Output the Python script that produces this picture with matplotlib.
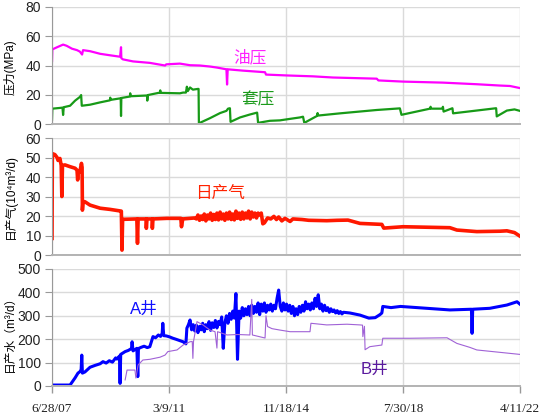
import numpy as np
import pandas as pd
import matplotlib
matplotlib.use('Agg')
import matplotlib.pyplot as plt

# time axis is in decimal years, converted to dates below
oil_t = [2007.49, 2007.50, 2007.65, 2007.84, 2007.95, 2008.12, 2008.28, 2008.37, 2008.44, 2008.47,
         2008.69, 2009.01, 2009.32, 2009.64, 2009.67, 2009.68, 2009.73, 2010.05, 2010.58, 2011.06,
         2011.10, 2011.53, 2011.85, 2012.16, 2012.48, 2012.70, 2013.00, 2013.02, 2013.04, 2013.52,
         2013.97, 2014.22, 2014.25, 2014.91, 2015.73, 2016.36, 2017.22, 2017.75, 2017.80, 2018.58,
         2019.84, 2020.91, 2021.64, 2021.96, 2022.18, 2022.27]
oil_p = [43, 51, 52.5, 54.3, 53.5, 51.5, 50.5, 49.5, 47.5, 50.5,
         49.8, 48, 47, 46, 52.5, 45, 44.2, 42.8, 41.8, 40,
         40.8, 41.3, 40.2, 40, 39.3, 38.6, 37.4, 27, 37.4, 36.5,
         35.8, 35.4, 33.8, 33.2, 32.6, 31.8, 31.3, 31.0, 29.8, 29.0,
         28.3, 27.2, 26.3, 26, 25, 24.6]

cas_t = [2007.49, 2007.50, 2007.74, 2007.82, 2007.84, 2007.86, 2008.06, 2008.22, 2008.37, 2008.41,
         2008.43, 2008.69, 2009.01, 2009.32, 2009.33, 2009.34, 2009.66, 2009.67, 2009.68, 2009.95,
         2009.96, 2009.98, 2010.49, 2010.50, 2010.52, 2010.90, 2010.91, 2010.92, 2011.53, 2011.63,
         2011.72, 2011.75, 2011.78, 2011.85, 2011.94, 2012.10, 2012.12, 2012.13, 2012.48, 2012.80,
         2013.00, 2013.05, 2013.11, 2013.13, 2013.43, 2013.74, 2013.97, 2014.00, 2014.37, 2014.69,
         2015.00, 2015.32, 2015.42, 2015.46, 2015.86, 2015.88, 2015.90, 2016.59, 2017.75, 2018.48,
         2018.53, 2019.43, 2019.45, 2019.47, 2019.82, 2019.84, 2019.86, 2020.14, 2020.16, 2021.52,
         2021.54, 2021.86, 2022.10, 2022.27]
cas_p = [3, 10.5, 11, 11.2, 6.2, 11.5, 12.5, 16, 18.5, 19.8,
         12.5, 13.2, 14.8, 16.2, 18, 16.5, 17.6, 5.5, 17.8, 18.8,
         21, 19, 19.5, 16, 19.8, 21.5, 23, 21.3, 21, 21.5,
         21.5, 25.5, 22.5, 25, 23.5, 24, 24, 0.5, 4, 7.5,
         9, 10.5, 10.8, 1.5, 4.5, 6.5, 7.8, 0.8, 2.2, 2.5,
         3.5, 4.5, 5, 0.8, 5.5, 7.5, 5.8, 7.3, 9.6, 10.7,
         6.3, 10.5, 11.8, 10.5, 10.5, 11.8, 8.5, 10.8, 7.3, 10.8,
         5.2, 9.2, 10, 9]

gas_t = [2007.49, 2007.50, 2007.58, 2007.65, 2007.68, 2007.74, 2007.78, 2007.80, 2007.82, 2007.90,
         2008.06, 2008.22, 2008.28, 2008.30, 2008.32, 2008.37, 2008.42, 2008.44, 2008.45, 2008.47,
         2008.53, 2008.69, 2009.01, 2009.32, 2009.64, 2009.68, 2009.70, 2009.72, 2010.17, 2010.19,
         2010.21, 2010.46, 2010.47, 2010.49, 2010.65, 2010.66, 2010.68, 2011.12, 2011.56, 2011.58,
         2011.62, 2012.00,
         2012.05, 2012.10, 2012.15, 2012.20, 2012.25, 2012.30, 2012.35, 2012.40, 2012.45, 2012.50,
         2012.55, 2012.60, 2012.65, 2012.70, 2012.75, 2012.80, 2012.85, 2012.90, 2012.95, 2013.00,
         2013.05, 2013.10, 2013.15, 2013.20, 2013.25, 2013.30, 2013.35, 2013.40, 2013.45, 2013.50,
         2013.55, 2013.60, 2013.65, 2013.70, 2013.75, 2013.80, 2013.85, 2013.90, 2013.95, 2014.00,
         2014.05, 2014.10, 2014.15, 2014.20,
         2014.30, 2014.40, 2014.50, 2014.58, 2014.65, 2014.75, 2014.85, 2015.01,
         2015.10, 2015.39, 2015.60, 2016.17, 2016.50, 2016.84, 2017.22, 2017.91, 2017.97, 2018.58,
         2020.06, 2020.28, 2020.91, 2021.64, 2021.86, 2022.10, 2022.27]
gas_q = [8.5, 52, 51.5, 50, 48.5, 49.5, 46, 30, 46, 46.2,
         45.3, 44.5, 43.5, 38.5, 43, 42.7, 47, 45, 23, 27.5,
         27.3, 25.6, 24, 23.4, 22.6, 22.5, 2.5, 18.3, 18.5, 6,
         18.5, 18.5, 13.7, 18.5, 18.5, 13.7, 18.5, 18.8, 18.8, 14.5,
         18.5, 19,
         18.5, 20.5, 17.8, 20, 18.2, 21, 17.5, 20.5, 18.5, 21.5,
         17.8, 20.8, 18.2, 21.5, 18, 22, 18.5, 21, 17.8, 21.5,
         18.5, 22, 18.2, 21, 18, 22.5, 18.8, 21.5, 18.3, 22,
         18.5, 21.5, 19, 22.5, 18.5, 22, 19.5, 21.5, 19, 21.5,
         20.5, 21.5, 16, 16.5,
         19, 18.5, 19.8, 18.2, 19.5, 17.5, 18.8, 17.2,
         18.5, 18.2, 17.8, 17.6, 17.8, 17.9, 16.2, 15.7, 13.8, 14.5,
         14, 12.8, 12, 12.2, 12.4, 11.5, 9.7]

wa_t = [2007.49, 2008.06, 2008.22, 2008.31, 2008.37, 2008.41, 2008.43, 2008.45, 2008.53, 2008.69,
        2008.85, 2009.01, 2009.10, 2009.20, 2009.30, 2009.40, 2009.50, 2009.54, 2009.62, 2009.64,
        2009.66, 2009.80, 2009.90, 2010.00, 2010.02, 2010.05, 2010.17, 2010.20, 2010.22, 2010.30,
        2010.40, 2010.50, 2010.58, 2010.68, 2010.76, 2010.85, 2010.92, 2010.97, 2010.99, 2011.02,
        2011.10, 2011.20, 2011.31, 2011.40, 2011.50, 2011.63, 2011.72,
        2011.75, 2011.80, 2011.85, 2011.90, 2011.95, 2012.00, 2012.05, 2012.10, 2012.15, 2012.20,
        2012.25, 2012.30, 2012.35, 2012.40, 2012.45, 2012.50, 2012.55, 2012.60, 2012.65, 2012.70,
        2012.75, 2012.80, 2012.85, 2012.90, 2012.95, 2013.00, 2013.05, 2013.10, 2013.15, 2013.20,
        2013.25, 2013.30, 2013.35, 2013.40, 2013.45, 2013.50, 2013.55, 2013.60, 2013.65, 2013.70,
        2013.75, 2013.80, 2013.85, 2013.90, 2013.95, 2014.00, 2014.05, 2014.10, 2014.15, 2014.20,
        2014.25, 2014.30, 2014.35, 2014.40, 2014.45, 2014.50, 2014.55, 2014.60, 2014.65, 2014.70,
        2014.75, 2014.80, 2014.85, 2014.90, 2014.95, 2015.00, 2015.05, 2015.10, 2015.15, 2015.20,
        2015.25, 2015.30, 2015.35, 2015.40, 2015.45, 2015.50, 2015.55, 2015.60, 2015.65, 2015.70,
        2015.75, 2015.80, 2015.85, 2015.90, 2015.95, 2016.00, 2016.05, 2016.10, 2016.15, 2016.20,
        2016.25, 2016.30, 2016.35, 2016.40, 2016.45, 2016.50, 2016.55, 2016.60, 2016.65, 2016.70,
        2016.90, 2017.22, 2017.50, 2017.70, 2017.85, 2017.91, 2017.94, 2018.20,
        2018.50, 2019.02, 2019.50, 2020.06, 2020.69, 2020.74, 2020.76, 2020.78, 2021.32, 2021.86,
        2022.18, 2022.27]
wa_q = [4, 4, 35, 55, 61, 70, 132, 55, 60, 80,
        88, 95, 104, 98, 108, 102, 120, 115, 128, 11,
        135, 147, 152, 160, 189, 150, 161, 40, 160, 165,
        170, 164, 168, 211, 206, 218, 212, 225, 268, 215,
        214, 210, 204, 200, 195, 189, 180,
        247, 262, 282, 240, 262, 235, 260, 228, 255, 240,
        268, 232, 262, 245, 275, 238, 270, 250, 280, 248,
        276, 262, 295, 161, 270, 300, 268, 310, 285, 320,
        290, 395, 114, 320, 290, 335, 300, 330, 305, 340,
        300, 345, 310, 340, 315, 355, 305, 350, 320, 355,
        315, 345, 325, 350, 320, 345, 330, 375, 410, 340,
        320, 355, 325, 350, 320, 345, 310, 340, 300, 330,
        305, 340, 315, 345, 320, 360, 330, 350, 325, 355,
        330, 375, 340, 390, 330, 350, 320, 345, 322, 335,
        315, 330, 318, 325, 312, 322, 310, 318, 308, 315,
        312, 303, 290, 292, 305, 312, 340, 335,
        340, 335, 330, 325, 328, 328, 225, 328, 332, 346,
        360, 350]

wb_t = [2009.80, 2009.86, 2010.11, 2010.14, 2010.21, 2010.36, 2010.58, 2010.90, 2011.06, 2011.15,
        2011.44, 2011.63, 2011.85, 2011.92, 2011.94, 2011.96, 2012.07, 2012.26, 2012.48, 2012.64,
        2012.70, 2012.72, 2013.02, 2013.36, 2013.74, 2013.80, 2013.82, 2014.22, 2014.25, 2014.30,
        2014.44, 2014.69, 2015.01, 2015.64, 2015.67, 2016.17, 2016.81, 2017.22, 2017.30, 2017.31,
        2017.36, 2017.38, 2017.53, 2017.91, 2017.94, 2018.80, 2019.97, 2020.28, 2020.69, 2020.91,
        2021.41, 2022.27]
wb_q = [26, 68, 68, 34, 90, 111, 114, 123, 132, 147,
        154, 175, 189, 190, 118, 190, 275, 261, 239, 232,
        162, 232, 218, 220, 218, 370, 218, 205, 300, 254,
        245, 239, 232, 232, 268, 261, 264, 261, 260, 211,
        255, 155, 168, 175, 204, 204, 206, 182, 165, 154,
        147, 135]

tick_dates = ['2007-06-28', '2011-03-09', '2014-11-18', '2018-07-30', '2022-04-11']
tick_labels = ['6/28/07', '3/9/11', '11/18/14', '7/30/18', '4/11/22']


def to_date(t):
    return pd.Timestamp('2007-06-28') + pd.to_timedelta((np.asarray(t) - 2007.49) * 365.25, unit='D')


cjk = ['Liberation Sans', 'Noto Sans CJK SC', 'DejaVu Sans']
ticks = pd.to_datetime(tick_dates)

fig = plt.figure(figsize=(5.43, 4.19), dpi=100)
ax1 = fig.add_axes([0.0958, 0.704, 0.862, 0.2793])
ax2 = fig.add_axes([0.0958, 0.3914, 0.862, 0.2792])
ax3 = fig.add_axes([0.0958, 0.0788, 0.862, 0.2792])

for ax in (ax1, ax2, ax3):
    ax.set_xlim(ticks[0], ticks[-1])
    ax.set_xticks(ticks)
    ax.grid(True, color='#dadada', lw=1.0)
    ax.set_axisbelow(True)
    for s in ('top', 'right'):
        ax.spines[s].set_visible(False)
    ax.spines['left'].set_color('#999999')
    ax.spines['bottom'].set_color('#b3b3b3')
    ax.spines['bottom'].set_linewidth(1.4)
    ax.tick_params(axis='y', length=5, width=0.8, color='#999999', pad=3,
                   labelsize=10, labelcolor='#222222')
    for lab in ax.get_yticklabels():
        lab.set_family('Liberation Sans')

ax1.tick_params(axis='x', length=0, labelbottom=False)
ax2.tick_params(axis='x', length=0, labelbottom=False)
ax3.set_xticklabels(tick_labels, family='Liberation Serif', fontsize=9.5, color='#222222')
ax3.tick_params(axis='x', length=5, width=1, color='#999999', pad=7)

# pressure
ax1.plot(to_date(oil_t), oil_p, color='#ff00ff', lw=1.6)
ax1.plot(to_date(cas_t), cas_p, color='#179a17', lw=1.6)
ax1.set_ylim(0, 80)
ax1.set_yticks(range(0, 81, 20))
ax1.text(to_date(2013.74), 45.8, '油压', color='#ff22ff', fontsize=12, family=cjk, ha='center', va='center')
ax1.text(to_date(2013.99), 16.8, '套压', color='#1a9a1a', fontsize=12, family=cjk, ha='center', va='center')

# gas
ax2.plot(to_date(gas_t), gas_q, color='#ff1800', lw=2.6)
ax2.set_ylim(0, 60)
ax2.set_yticks(range(0, 61, 10))
ax2.text(to_date(2012.80), 31.5, '日产气', color='#ff2200', fontsize=12, family=cjk, ha='center', va='center')

# water
ax3.plot(to_date(wb_t), wb_q, color='#a062d6', lw=0.8, zorder=3)
ax3.plot(to_date(wa_t), wa_q, color='#0000ff', lw=2.2, zorder=2)
ax3.set_ylim(0, 500)
ax3.set_yticks(range(0, 501, 100))
ax3.text(to_date(2010.40), 329, 'A井', color='#1010ff', fontsize=12, family=cjk, ha='center', va='center')
ax3.text(to_date(2017.69), 72, 'B井', color='#5a1a9e', fontsize=12, family=cjk, ha='center', va='center')

fig.text(0.0184, 0.839, '压力(MPa)', rotation=90, fontsize=8.5, family=cjk, ha='center', va='center')
fig.text(0.0184, 0.531, '日产气(10⁴m³/d)', rotation=90, fontsize=8.5, family=cjk, ha='center', va='center')
fig.text(0.0184, 0.21, '日产水（m³/d）', rotation=90, fontsize=8.5, family=cjk, ha='center', va='center')

fig.savefig('out.png', dpi=100)
